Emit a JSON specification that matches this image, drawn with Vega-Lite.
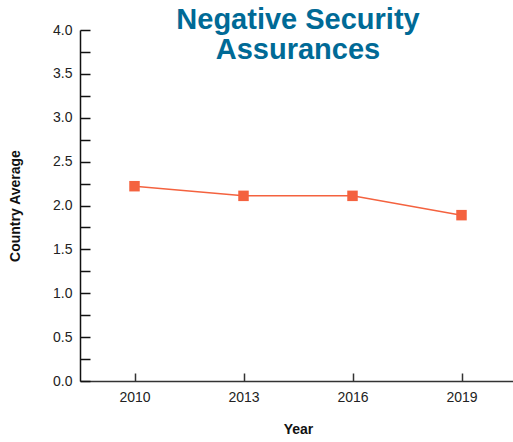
{
  "$schema": "https://vega.github.io/schema/vega-lite/v6.json",
  "width": 436,
  "height": 351,
  "autosize": "none",
  "padding": {"left": 80, "top": 30, "right": 0, "bottom": 61},
  "background": "white",
  "config": {"view": {"stroke": null}, "font": "Liberation Sans"},
  "title": {
    "text": ["Negative Security", "Assurances"],
    "font": "Liberation Sans",
    "fontSize": 29,
    "fontWeight": "bold",
    "color": "#006a96",
    "lineHeight": 30,
    "anchor": "middle",
    "frame": "group",
    "offset": -42
  },
  "data": {"values": [
    {"Year": "2010", "Value": 2.22},
    {"Year": "2013", "Value": 2.11},
    {"Year": "2016", "Value": 2.11},
    {"Year": "2019", "Value": 1.89}
  ]},
  "encoding": {
    "x": {
      "field": "Year", "type": "ordinal",
      "scale": {"type": "point", "padding": 0.5},
      "axis": {
        "title": "Year", "labelAngle": 0, "labelFontSize": 14, "labelColor": "#222",
        "titleFontSize": 14, "titleFontWeight": "bold", "titleColor": "#111", "titlePadding": 18,
        "domainColor": "#333", "domainWidth": 1.5, "tickColor": "#333", "tickWidth": 1.5,
        "tickSize": -8, "labelPadding": 17, "grid": false
      }
    },
    "y": {
      "field": "Value", "type": "quantitative",
      "scale": {"domain": [0, 4], "nice": false},
      "axis": {
        "title": "Country Average",
        "values": [0, 0.25, 0.5, 0.75, 1, 1.25, 1.5, 1.75, 2, 2.25, 2.5, 2.75, 3, 3.25, 3.5, 3.75, 4],
        "labelExpr": "datum.value % 0.5 == 0 ? format(datum.value, '.1f') : ''",
        "labelFontSize": 14, "labelColor": "#222",
        "titleFontSize": 14, "titleFontWeight": "bold", "titleColor": "#111", "titlePadding": 30,
        "domainColor": "#111", "domainWidth": 1.5, "tickColor": "#111", "tickWidth": 1.5,
        "tickSize": -10, "labelPadding": 18, "grid": false
      }
    }
  },
  "layer": [
    {"mark": {"type": "line", "color": "#f4623f", "strokeWidth": 1.5}},
    {"mark": {"type": "point", "shape": "square", "filled": true, "size": 110, "color": "#f4623f", "opacity": 1}}
  ]
}
